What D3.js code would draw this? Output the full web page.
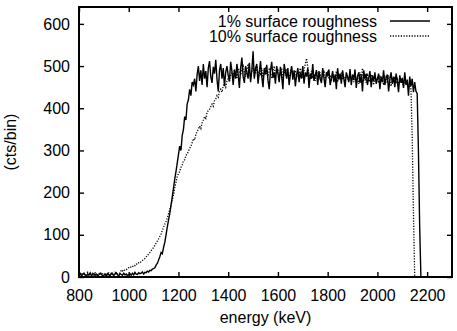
<!DOCTYPE html>
<html>
<head>
<meta charset="utf-8">
<script src="https://cdn.jsdelivr.net/npm/d3@7"></script>
<style>
  body { margin: 0; background: #fff; }
  svg { display: block; font-family: "Liberation Sans", Arial, sans-serif; }
</style>
</head>
<body>
<svg width="457" height="331"></svg>
<script>
// energy bins: 800 .. 2195 keV, 5 keV wide (one row = 100 keV)
var binStart = 800, binWidth = 5;

// counts per bin, 1% surface roughness (solid)
var rough1 = [
    5, 8, 3, 6, 9, 4, 2, 7, 5, 10, 3, 6, 8, 4, 7, 2, 5, 9, 6, 3,
    4, 7, 2, 8, 5, 3, 9, 6, 4, 7, 10, 5, 3, 8, 6, 4, 9, 5, 7, 3,
    6, 8, 4, 9, 5, 11, 7, 6, 10, 8, 9, 12, 7, 11, 10, 14, 12, 16, 15, 19,
    20, 22, 28, 32, 40, 48, 58, 55, 70, 82, 100, 118, 135, 150, 170, 190, 210, 232, 250, 270,
    290, 310, 300, 335, 350, 380, 372, 410, 420, 445, 430, 462, 455, 470, 440, 480, 500, 465, 490, 455,
    505, 470, 488, 450, 495, 512, 475, 460, 498, 482, 515, 468, 440, 490, 505, 470, 495, 452, 485, 500,
    478, 465, 510, 488, 455, 492, 470, 505, 480, 448, 495, 520, 475, 460, 500, 485, 470, 508, 462, 490,
    535, 470, 495, 505, 458, 485, 512, 475, 450, 495, 480, 503, 466, 445, 490, 510, 472, 485, 458, 500,
    482, 462, 498, 475, 445, 505, 488, 470, 495, 455, 480, 500, 468, 490, 452, 478, 495, 462, 485, 470,
    500, 458, 485, 475, 495, 448, 482, 470, 505, 465, 478, 490, 455, 488, 470, 460, 495, 472, 450, 485,
    478, 492, 455, 470, 488, 462, 480, 445, 495, 468, 482, 458, 490, 470, 450, 485, 475, 462, 493, 455,
    480, 468, 492, 448, 475, 485, 460, 478, 440, 490, 470, 482, 455, 472, 488, 450, 478, 465, 485, 458,
    470, 482, 445, 475, 462, 490, 455, 472, 480, 440, 468, 485, 458, 475, 450, 482, 465, 438, 478, 460,
    472, 448, 485, 455, 468, 430, 475, 452, 470, 438, 462, 440, 435, 300, 120, 0, 0, 0, 0, 0
];

// counts per bin, 10% surface roughness (dotted)
var rough10 = [
    8, 5, 10, 6, 9, 4, 7, 11, 5, 8, 6, 9, 4, 10, 7, 5, 8, 6, 11, 7,
    5, 9, 6, 8, 10, 5, 7, 9, 6, 11, 8, 7, 10, 9, 16, 14, 18, 15, 17, 20,
    22, 21, 25, 24, 28, 27, 31, 30, 34, 33, 37, 39, 42, 44, 48, 50, 55, 58, 62, 66,
    70, 75, 80, 85, 90, 96, 102, 110, 118, 125, 132, 140, 150, 160, 170, 182, 195, 210, 225, 238,
    245, 250, 260, 265, 275, 278, 288, 292, 298, 305, 310, 318, 328, 325, 338, 345, 350, 358, 352, 365,
    372, 380, 376, 390, 395, 398, 404, 410, 405, 418, 422, 430, 426, 440, 445, 438, 452, 458, 450, 465,
    470, 462, 478, 485, 475, 490, 482, 470, 495, 488, 478, 492, 500, 485, 475, 490, 505, 482, 470, 488,
    495, 478, 485, 500, 472, 490, 482, 495, 470, 486, 498, 480, 475, 492, 485, 470, 488, 500, 478, 485,
    490, 475, 482, 495, 470, 488, 478, 492, 480, 470, 485, 498, 475, 482, 490, 472, 486, 478, 495, 480,
    472, 490, 505, 518, 498, 480, 470, 488, 475, 482, 465, 490, 478, 472, 485, 468, 480, 490, 470, 478,
    485, 470, 478, 465, 482, 475, 470, 488, 462, 478, 470, 485, 468, 475, 460, 480, 472, 465, 478, 470,
    475, 462, 480, 468, 472, 458, 485, 470, 495, 465, 475, 460, 478, 470, 462, 480, 468, 455, 475, 465,
    472, 460, 478, 465, 470, 455, 475, 468, 460, 478, 465, 452, 470, 462, 475, 458, 468, 455, 472, 460,
    465, 452, 470, 458, 462, 448, 458, 445, 330, 150, 0, 0, 0, 0, 0, 0, 0, 0, 0, 0
];

var xTicks = [800, 1000, 1200, 1400, 1600, 1800, 2000, 2200];
var yTicks = [0, 100, 200, 300, 400, 500, 600];

var series = [
    { name: "1% surface roughness", values: rough1, dash: null },
    { name: "10% surface roughness", values: rough10, dash: "1.2,1.5" }
];

var svg = d3.select("svg"),
    plotLeft = 79, plotRight = 452, plotTop = 7, plotBottom = 277;

var x = d3.scaleLinear().domain([800, 2300]).range([plotLeft, plotRight]);
var y = d3.scaleLinear().domain([0, 640]).range([plotBottom, plotTop]);
var fmt = d3.format("d");

function energy(i) { return binStart + i * binWidth; }

// axes, ticks pointing inward on all four sides
var gx = svg.append("g").attr("transform", "translate(0," + plotBottom + ")")
    .call(d3.axisBottom(x).tickValues(xTicks).tickSize(-5).tickPadding(13).tickFormat(fmt));
var gxTop = svg.append("g").attr("transform", "translate(0," + plotTop + ")")
    .call(d3.axisTop(x).tickValues(xTicks).tickSize(-5).tickFormat(""));
var gy = svg.append("g").attr("transform", "translate(" + plotLeft + ",0)")
    .call(d3.axisLeft(y).tickValues(yTicks).tickSize(-5).tickPadding(9).tickFormat(fmt));
var gyRight = svg.append("g").attr("transform", "translate(" + plotRight + ",0)")
    .call(d3.axisRight(y).tickValues(yTicks).tickSize(-5).tickFormat(""));

[gx, gxTop, gy, gyRight].forEach(function (g) {
    g.select(".domain").remove();
    g.selectAll("line").attr("stroke", "#000").attr("stroke-width", 1.4);
    g.selectAll("text").attr("fill", "#000").style("font-size", "16px")
        .style("font-family", "'Liberation Sans', Arial, sans-serif");
});

var line = d3.line()
    .x(function (d, i) { return x(energy(i)); })
    .y(function (d) { return y(d); });

svg.append("g").selectAll("path")
    .data(series)
    .enter().append("path")
    .attr("d", function (d) { return line(d.values); })
    .attr("fill", "none")
    .attr("stroke", "#000")
    .attr("stroke-width", function (d) { return d.dash ? 1.3 : 1.4; })
    .attr("stroke-dasharray", function (d) { return d.dash; });

svg.append("rect")
    .attr("x", plotLeft).attr("y", plotTop)
    .attr("width", plotRight - plotLeft).attr("height", plotBottom - plotTop)
    .attr("fill", "none").attr("stroke", "#000").attr("stroke-width", 2);

// legend
var legend = svg.append("g").selectAll("g")
    .data(series)
    .enter().append("g")
    .attr("transform", function (d, i) { return "translate(0," + (21 + i * 15) + ")"; });

legend.append("text")
    .attr("x", 377).attr("y", 5.5)
    .attr("text-anchor", "end")
    .style("font-size", "16px")
    .text(function (d) { return d.name; });

legend.append("line")
    .attr("x1", 390).attr("x2", 430)
    .attr("stroke", "#000").attr("stroke-width", 1.3)
    .attr("stroke-dasharray", function (d) { return d.dash; });

svg.append("text")
    .attr("x", (plotLeft + plotRight) / 2).attr("y", 323)
    .attr("text-anchor", "middle")
    .style("font-size", "16px")
    .text("energy (keV)");

svg.append("text")
    .attr("transform", "translate(16," + ((plotTop + plotBottom) / 2) + ") rotate(-90)")
    .attr("text-anchor", "middle")
    .style("font-size", "16px")
    .text("(cts/bin)");
</script>
</body>
</html>
